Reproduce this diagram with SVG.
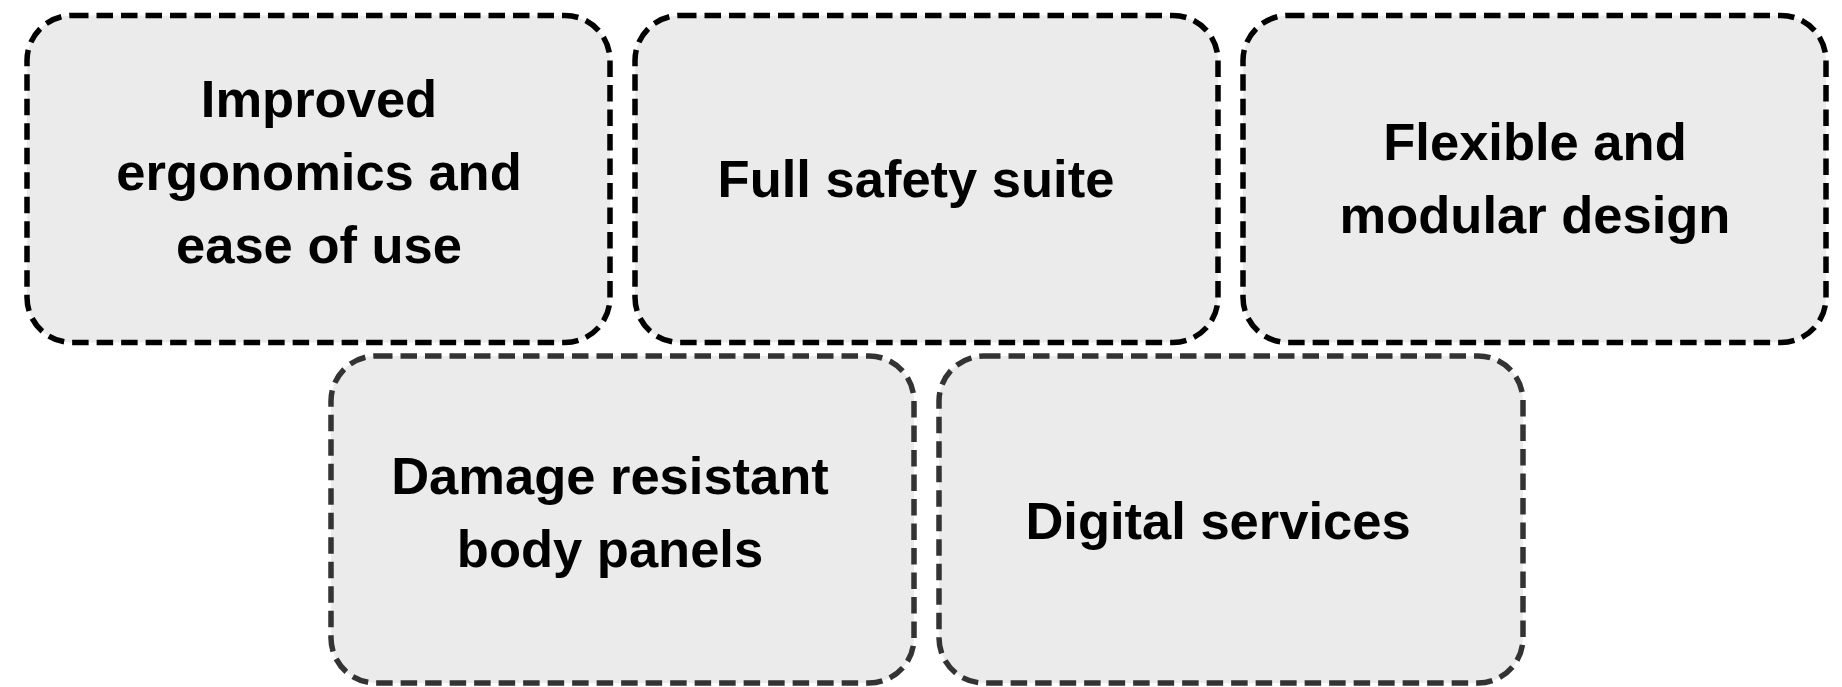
<svg xmlns="http://www.w3.org/2000/svg" width="1842" height="687" viewBox="0 0 1842 687">
  <style>
    .box { fill: #ebebeb; stroke-width: 5.5; stroke-dasharray: 16.5 8; }
    .top { stroke: #000000; }
    .bot { stroke: #333333; }
    .lbl { font-family: "Liberation Sans", Arial, sans-serif; font-weight: bold; font-size: 52.5px; fill: #000000; text-anchor: middle; }
  </style>
  <rect width="1842" height="687" fill="#ffffff"/>
  <g id="node-ergonomics">
    <rect class="box top" x="27" y="15.5" width="583" height="327" rx="45" ry="45"/>
    <text class="lbl" x="319" y="116.7">Improved</text>
    <text class="lbl" x="319" y="189.7">ergonomics and</text>
    <text class="lbl" x="319" y="262.7">ease of use</text>
  </g>
  <g id="node-safety">
    <rect class="box top" x="635" y="15.5" width="583" height="327" rx="45" ry="45"/>
    <text class="lbl" x="916" y="196.7">Full safety suite</text>
  </g>
  <g id="node-modular">
    <rect class="box top" x="1243" y="15.5" width="583" height="327" rx="45" ry="45"/>
    <text class="lbl" x="1535" y="160">Flexible and</text>
    <text class="lbl" x="1535" y="232.7">modular design</text>
  </g>
  <g id="node-panels">
    <rect class="box bot" x="331" y="356" width="583" height="327" rx="45" ry="45"/>
    <text class="lbl" x="610" y="494">Damage resistant</text>
    <text class="lbl" x="610" y="566.7">body panels</text>
  </g>
  <g id="node-digital">
    <rect class="box bot" x="939" y="356" width="584" height="327" rx="45" ry="45"/>
    <text class="lbl" x="1218" y="539">Digital services</text>
  </g>
  <g id="connectors"></g>
</svg>
